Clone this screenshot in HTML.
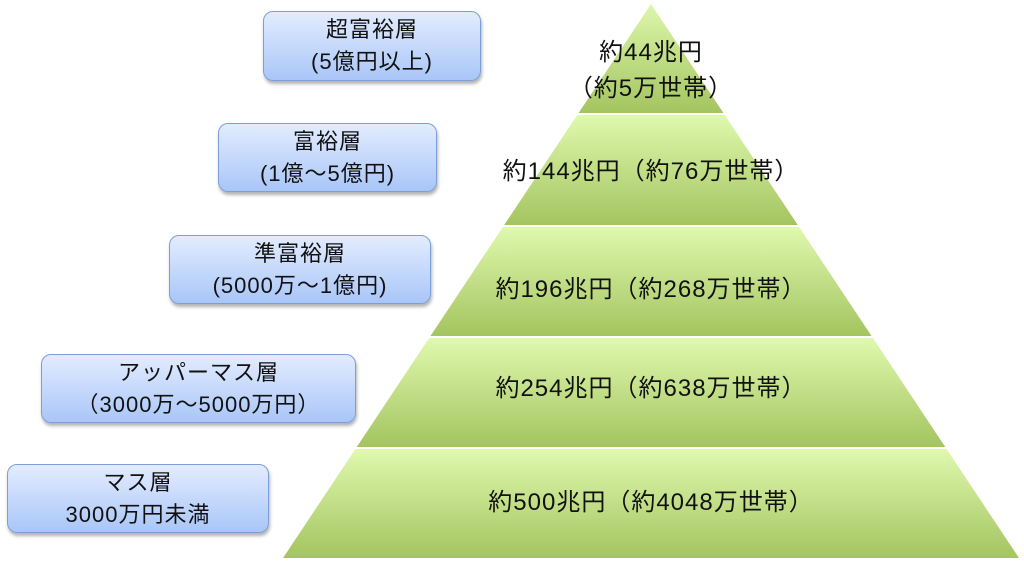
<!DOCTYPE html>
<html><head><meta charset="utf-8"><style>
html,body{margin:0;padding:0;background:#fff;width:1024px;height:568px;overflow:hidden;position:relative;font-family:"Liberation Sans","Noto Sans CJK JP",sans-serif;}
.b{position:absolute;box-sizing:border-box;border:1.5px solid #7d9fd6;border-radius:10px;background:linear-gradient(#e3ecff,#a9c6f8);box-shadow:1px 3px 3px rgba(0,0,0,0.3);display:flex;align-items:center;justify-content:center;text-align:center;font-size:22px;line-height:32px;color:#111;letter-spacing:1px;}
svg{position:absolute;left:0;top:0;}
.t{position:absolute;font-size:24px;color:#111;text-align:center;white-space:nowrap;letter-spacing:1px;line-height:30px;}
</style></head><body>
<svg width="1024" height="568">
<defs>
<linearGradient id="g" x1="0" y1="0" x2="0" y2="1"><stop offset="0" stop-color="#dff9ae"/><stop offset="1" stop-color="#a4c460"/></linearGradient>
<clipPath id="c"><polygon points="651,4 283,558 1019,558"/></clipPath>
</defs>
<g clip-path="url(#c)">
<rect x="0" y="0" width="1024" height="113" fill="url(#g)"/>
<rect x="0" y="115" width="1024" height="110" fill="url(#g)"/>
<rect x="0" y="227" width="1024" height="109" fill="url(#g)"/>
<rect x="0" y="338" width="1024" height="109" fill="url(#g)"/>
<rect x="0" y="449" width="1024" height="109" fill="url(#g)"/>
</g>
</svg>
<div class="b" style="left:263px;top:11px;width:218px;height:70px">超富裕層<br>(5億円以上)</div>
<div class="b" style="left:218px;top:123px;width:219px;height:69px">富裕層<br>(1億～5億円)</div>
<div class="b" style="left:169px;top:235px;width:262px;height:69px">準富裕層<br>(5000万～1億円)</div>
<div class="b" style="left:41px;top:354px;width:315px;height:69px">アッパーマス層<br>（3000万～5000万円）</div>
<div class="b" style="left:7px;top:464px;width:262px;height:69px">マス層<br>3000万円未満</div>
<div class="t" style="left:551px;width:200px;top:35px;line-height:36px">約44兆円<br>（約5万世帯）</div>
<div class="t" style="left:451px;width:400px;top:157px">約144兆円（約76万世帯）</div>
<div class="t" style="left:451px;width:400px;top:275px">約196兆円（約268万世帯）</div>
<div class="t" style="left:451px;width:400px;top:374px">約254兆円（約638万世帯）</div>
<div class="t" style="left:451px;width:400px;top:488px">約500兆円（約4048万世帯）</div>
</body></html>
